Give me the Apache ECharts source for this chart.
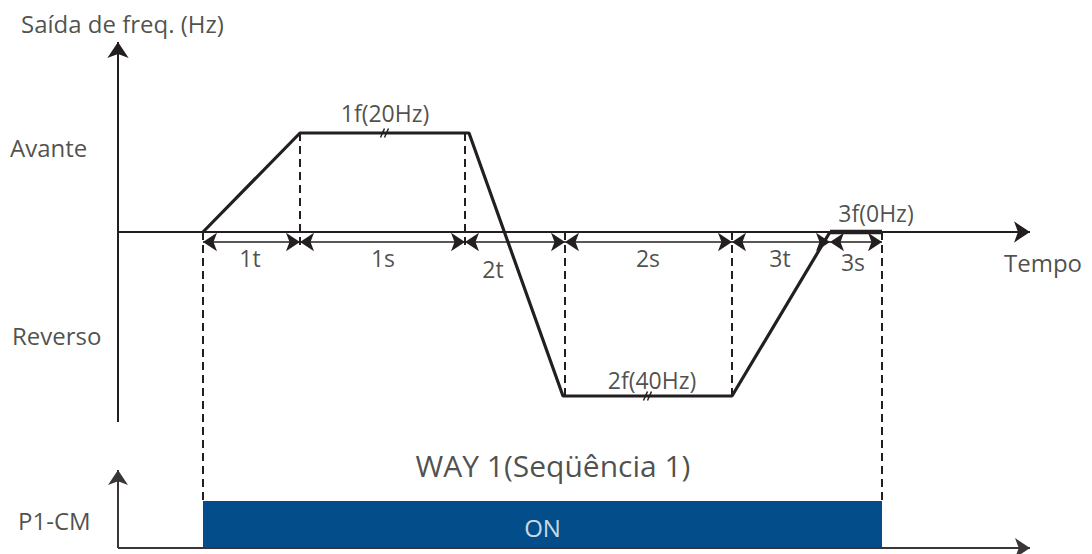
<!DOCTYPE html>
<html>
<head>
<meta charset="utf-8">
<script src="https://cdn.jsdelivr.net/npm/echarts@6/dist/echarts.min.js"></script>
<style>html,body{margin:0;padding:0;background:#fff}#c{width:1092px;height:554px}</style>
</head>
<body>
<div id="c"></div>
<script>
// Time boundaries (arbitrary time units): start, end 1t, end 1s, end 2t, end 2s, end 3t, end 3s
const timeMarks = [0, 9.7, 26.2, 36.2, 52.9, 62.7, 67.9];
// Frequency levels (arbitrary units): forward 1f, zero, reverse 2f
const levelForward = 9.9;
const levelReverse = -16.4;
// Frequency output profile (time, level)
const profileT = [0, 9.7, 26.6, 36.0, 52.9, 62.7];
const profileF = [0, 9.9, 9.9, -16.4, -16.4, 0];
const holdT = [62.7, 67.9];      // 3s hold at 0 Hz
// Dimension segments and their labels
const segLabels = ['1t', '1s', '2t', '2s', '3t', '3s'];
const segLabelPos = [[4.7, -2.6], [18.0, -2.6], [29.0, -3.7], [44.5, -2.6], [57.7, -2.6], [65.0, -3.0]];
const dimY = -1.0;
// Step labels
const stepLabels = ['1f(20Hz)', '2f(40Hz)', '3f(0Hz)'];
const stepLabelPos = [[18.2, 11.9], [44.9, -14.8], [67.3, 1.9]];
// Axis extents
const axisX0 = -8.5, axisXEnd = 82.7;
const freqAxisBottom = -19.0, freqAxisTop = 19.0;
const p1Base = -31.6, p1Top = -23.8, barTop = -26.9;
// Side texts
const sideTexts = ['Saída de freq. (Hz)', 'Avante', 'Reverso', 'Tempo', 'P1-CM'];
const sideTextPos = [[-18.2, 20.9], [-19.3, 8.5], [-19.1, -10.3], [80.1, -3.0], [-18.5, -28.8]];
const wayText = 'WAY 1(Seqüência 1)';
const wayPos = [35.0, -23.3];
const onText = 'ON';
const breakAt = [[18.2, 9.9], [44.5, -16.4]];

const INK = '#231f20';
const FONT = 'Open Sans';

const chart = echarts.init(document.getElementById('c'), null, {renderer: 'svg'});

const profileData = profileT.map((t, i) => [t, profileF[i]]);

const dimData = [];
for (let i = 0; i < timeMarks.length - 1; i++) {
  dimData.push({coords: [[timeMarks[i], dimY], [timeMarks[i + 1], dimY]]});
}

const dashed = [
  [timeMarks[0], 0, barTop],
  [timeMarks[1], levelForward, -1.3],
  [timeMarks[2], levelForward, -1.3],
  [timeMarks[3], 0, levelReverse],
  [timeMarks[4], 0, levelReverse],
  [timeMarks[6], 0, barTop]
].map(d => ({coords: [[d[0], d[1]], [d[0], d[2]]]}));

const breaks = [];
breakAt.forEach(b => {
  breaks.push({coords: [[b[0] - 0.45, b[1] - 0.45], [b[0] - 0.05, b[1] + 0.45]]});
  breaks.push({coords: [[b[0] - 0.05, b[1] - 0.45], [b[0] + 0.35, b[1] + 0.45]]});
});

const centerLabels = [];
segLabels.forEach((s, i) => centerLabels.push({name: s, value: segLabelPos[i]}));
stepLabels.forEach((s, i) => centerLabels.push({name: s, value: stepLabelPos[i]}));

chart.setOption({
  animation: false,
  grid: {left: 0, right: 0, top: 0, bottom: 0},
  xAxis: {type: 'value', min: -20.3, max: 88.9, show: false},
  yAxis: {type: 'value', min: -32.2, max: 23.2, show: false},
  series: [
    { // ON bar
      type: 'custom',
      renderItem: (params, api) => {
        const p0 = api.coord([api.value(0), api.value(2)]);
        const p1 = api.coord([api.value(1), api.value(3)]);
        return {type: 'rect', shape: {x: p0[0], y: p0[1], width: p1[0] - p0[0], height: p1[1] - p0[1]},
          style: {fill: '#034e8a'}};
      },
      data: [[timeMarks[0], timeMarks[6], barTop, p1Base]],
      z: 1
    },
    { // main axes arrows
      type: 'lines', coordinateSystem: 'cartesian2d',
      symbol: ['none', 'arrow'], symbolSize: [0, 16],
      lineStyle: {color: INK, width: 2, opacity: 1},
      data: [
        {coords: [[axisX0, freqAxisBottom], [axisX0, freqAxisTop]]},
        {coords: [[axisX0, 0], [axisXEnd, 0]]}
      ],
      z: 3
    },
    { // P1-CM axes arrows
      type: 'lines', coordinateSystem: 'cartesian2d',
      symbol: ['none', 'arrow'], symbolSize: [0, 15],
      lineStyle: {color: '#3a3536', width: 2, opacity: 1},
      data: [
        {coords: [[axisX0, p1Base], [axisX0, p1Top]]},
        {coords: [[axisX0, p1Base], [axisXEnd, p1Base]]}
      ],
      z: 3
    },
    { // dashed guide lines
      type: 'lines', coordinateSystem: 'cartesian2d',
      lineStyle: {color: INK, width: 2, type: [8, 5], opacity: 1},
      data: dashed, z: 2
    },
    { // dimension arrows
      type: 'lines', coordinateSystem: 'cartesian2d',
      symbol: ['arrow', 'arrow'], symbolSize: 14,
      lineStyle: {color: INK, width: 1.5, opacity: 1},
      data: dimData, z: 3
    },
    { // frequency profile
      type: 'line', data: profileData, symbol: 'none',
      lineStyle: {color: INK, width: 3.2}, z: 4
    },
    { // 3s hold
      type: 'line', data: holdT.map(t => [t, 0]), symbol: 'none',
      lineStyle: {color: INK, width: 4.5}, z: 4
    },
    { // break marks
      type: 'lines', coordinateSystem: 'cartesian2d',
      lineStyle: {color: INK, width: 1.5, opacity: 1},
      data: breaks, z: 5
    },
    { // centered labels
      type: 'scatter', symbolSize: 0, z: 6,
      label: {show: true, position: 'inside', formatter: '{b}', color: INK, fontFamily: FONT, fontSize: 23},
      data: centerLabels
    },
    { // side texts
      type: 'scatter', symbolSize: 0, z: 6,
      label: {show: true, position: 'right', distance: 0, formatter: '{b}', color: INK, fontFamily: FONT, fontSize: 24},
      data: sideTexts.map((s, i) => ({name: s, value: sideTextPos[i]}))
    },
    { // WAY text
      type: 'scatter', symbolSize: 0, z: 6,
      label: {show: true, position: 'inside', formatter: '{b}', color: INK, fontFamily: FONT, fontSize: 30},
      data: [{name: wayText, value: wayPos}]
    },
    { // ON text
      type: 'scatter', symbolSize: 0, z: 6,
      label: {show: true, position: 'inside', formatter: '{b}', color: '#ffffff', fontFamily: FONT, fontSize: 24},
      data: [{name: onText, value: [(timeMarks[0] + timeMarks[6]) / 2, -29.5]}]
    }
  ]
});
</script>
</body>
</html>
